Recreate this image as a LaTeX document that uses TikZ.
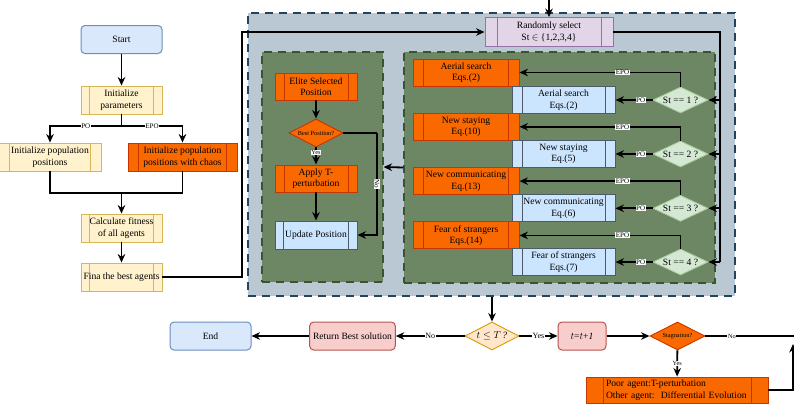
\documentclass[tikz,border=0pt]{standalone}
\usepackage{fontspec}
\setmainfont{Liberation Serif}
\usepackage{xcolor}
\usepackage{tikz}
\usetikzlibrary{arrows.meta,shapes.geometric}

\definecolor{termfill}{HTML}{DAE8FC}
\definecolor{termline}{HTML}{6C8EBF}
\definecolor{yelfill}{HTML}{FFF2CC}
\definecolor{yelline}{HTML}{D6B656}
\definecolor{orgfill}{HTML}{FA6800}
\definecolor{orgline}{HTML}{C73500}
\definecolor{purfill}{HTML}{E1D5E7}
\definecolor{purline}{HTML}{9673A6}
\definecolor{outerfill}{HTML}{BAC8D3}
\definecolor{outerline}{HTML}{23445D}
\definecolor{grnfill}{HTML}{6D8764}
\definecolor{grnline}{HTML}{3A5431}
\definecolor{bluefill}{HTML}{CCE5FF}
\definecolor{blueline}{HTML}{4D5B69}
\definecolor{dmdfill}{HTML}{D5E8D4}
\definecolor{dmdline}{HTML}{A9CC9C}
\definecolor{redfill}{HTML}{F8CECC}
\definecolor{redline}{HTML}{B85450}
\definecolor{tfill}{HTML}{FFE6CC}
\definecolor{tline}{HTML}{D79B00}

\tikzset{
  proc/.style n args={3}{fill=#1, draw=#2, line width=0.9pt, inner sep=1pt,
    minimum height=28pt,
    path picture={\draw[#2, line width=0.9pt]
      ([xshift=#3]path picture bounding box.north west) -- ([xshift=#3]path picture bounding box.south west)
      ([xshift=-#3]path picture bounding box.north east) -- ([xshift=-#3]path picture bounding box.south east);}},
  yelbox/.style={proc={yelfill}{yelline}{8.3pt}, minimum width=81pt},
  orgbox/.style={proc={orgfill}{orgline}{#1}},
  orgbox/.default=10.5pt,
  bluebox/.style={proc={bluefill}{blueline}{#1}},
  bluebox/.default=10pt,
  term/.style={rounded corners=4pt, fill=termfill, draw=termline, line width=1pt,
    minimum width=81pt, minimum height=28pt},
  redbox/.style={rounded corners=4pt, fill=redfill, draw=redline, line width=1pt,
    minimum height=28pt},
  dmd/.style={diamond, aspect=2, inner sep=0pt, line width=0.9pt},
  region/.style={dashed, dash pattern=on 8pt off 6pt, line width=1.1pt},
  conn/.style={line width=1.8pt, -{Stealth[length=8.5pt,width=7.5pt]}},
  wire/.style={line width=1.8pt},
  lab/.style={fill=white, inner sep=0.6pt, font=\fontsize{7}{7}\selectfont},
  tiny/.style={font=\fontsize{6.3}{7}\selectfont}
}

\begin{document}
\begin{tikzpicture}[x=1pt, y=-1pt,
    every node/.style={font=\fontsize{9.6}{11.5}\selectfont, align=center}]
\useasboundingbox[fill=white] (0,0) rectangle (794,405);

% regions
\node[region, fill=outerfill, draw=outerline, minimum width=487pt, minimum height=283pt] (outer) at (491.5,154.5) {};
\node[region, fill=grnfill, draw=grnline, minimum width=121pt, minimum height=230pt] (gLeft) at (322.5,167) {};
\node[region, fill=grnfill, draw=grnline, minimum width=311pt, minimum height=231pt] (gRight) at (559.5,167.5) {};

% left column
\node[term] (start) at (121.5,39.5) {Start};
\node[yelbox] (init) at (121.5,100) {Initialize\\parameters};
\node[proc={yelfill}{yelline}{10.5pt}, minimum width=102pt] (popPO) at (50,157) {Initialize population\\positions};
\node[orgbox, minimum width=109pt] (popEPO) at (182.5,157) {Initialize population\\positions with chaos};
\node[yelbox] (fit) at (121.5,228) {Calculate fitness\\of all agents};
\node[yelbox] (best) at (121.5,277) {Fina the best agents};

\coordinate (split) at (121.5,126);
\coordinate (merge) at (121.5,193);
\coordinate (loopUp) at (242,32);
\coordinate (topIn) at (549,-5);

\draw[conn] (start) -- (init);
\draw[wire] (init) -- (split);
\draw[conn] (split) -| node[lab, pos=0.25]{PO} (popPO);
\draw[conn] (split) -| node[lab, pos=0.25]{EPO} (popEPO);
\draw[wire] (popPO.south) |- (merge);
\draw[wire] (popEPO.south) |- (merge);
\draw[conn] (merge) -- (fit);
\draw[conn] (fit) -- (best);

% strategy selection
\node[proc={purfill}{purline}{12pt}, minimum width=128pt, minimum height=29pt] (rand) at (549,32) {Randomly select\\St $\in$ \{1,2,3,4\}};
\draw[conn] (best.east) -| (loopUp) -- (rand.west);
\draw[conn] (topIn) -- (rand.north);

% elite branch
\node[orgbox=9pt, minimum width=82pt, minimum height=27pt] (elite) at (316,86.5) {Elite Selected\\Position};
\node[dmd, fill=orgfill, draw=orgline, minimum width=54pt, minimum height=28pt, tiny] (bestq) at (316,133) {Best Position?};
\node[orgbox=9pt, minimum width=82pt, minimum height=27pt] (apply) at (316,178.5) {Apply T-\\perturbation};
\node[bluebox=8.3pt, minimum width=82pt] (update) at (316,235) {Update Position};
\coordinate (noCorner) at (377,133);

\draw[conn] (elite) -- (bestq);
\draw[conn] (bestq) -- node[lab, tiny, pos=0.3]{Yes} (apply);
\draw[conn] (apply) -- (update);
\draw[wire] (bestq.east) -- (noCorner);
\draw[conn] (noCorner) |- node[lab, rotate=-90, pos=0.25]{No} (update.east);
\draw[conn] (gRight.west) -- (gLeft.east);

% four strategies
\coordinate (busEnd) at (720,262);
\draw[wire] (rand.east) -| (busEnd);
\foreach \i/\ye/\yp/\te/\tp in {
    1/72.5/100/{Aerial search\\Eqs.(2)}/{Aerial search\\Eqs.(2)},
    2/126.8/154/{New staying\\Eq.(10)}/{New staying\\Eq.(5)},
    3/181.1/208.3/{New communicating\\Eq.(13)}/{New communicating\\Eq.(6)},
    4/235.4/262/{Fear of strangers\\Eqs.(14)}/{Fear of strangers\\Eqs.(7)}}{
  \node[orgbox=10.8pt, minimum width=106pt, minimum height=27pt] (epo\i) at (466,\ye) {\te};
  \node[bluebox, minimum width=103pt, minimum height=27pt] (po\i) at (563.5,\yp) {\tp};
  \node[dmd, fill=dmdfill, draw=dmdline, minimum width=55pt, minimum height=26pt] (st\i) at (680.5,\yp) {St == \i\ ?};
  \draw[conn] (st\i.north) |- node[lab, pos=0.68]{EPO} (epo\i.east);
  \draw[conn] (st\i.west) -- node[lab, pos=0.32]{PO} (po\i.east);
  \draw[conn] (st\i.east -| busEnd) -- (st\i.east);
}

% bottom row
\node[dmd, fill=tfill, draw=tline, minimum width=54pt, minimum height=28pt] (tq) at (492,336) {$t\leq T$\,\textit{?}};
\node[redbox, minimum width=81pt] (ret) at (352.5,336) {Return Best solution};
\node[term] (end) at (210.5,336) {End};
\node[redbox, minimum width=48pt] (inc) at (582,336) {$t$=$t$+\textit{1}};
\node[dmd, fill=orgfill, draw=orgline, minimum width=55pt, minimum height=28pt, tiny] (stag) at (677.5,336) {Stagnation?};
\node[orgbox=17pt, minimum width=182pt, minimum height=26pt, text width=142pt, align=left, inner sep=0pt] (poor) at (677,390)
  {Poor agent:T-perturbation\\Other agent:\ \ Differential Evolution};
\coordinate (exitR) at (800,336);
\coordinate (loopR) at (793,344);

\draw[conn] (outer.south -| tq) -- (tq.north);
\draw[conn] (tq) -- node[lab, font=\fontsize{8}{8}\selectfont]{No} (ret);
\draw[conn] (ret) -- (end);
\draw[conn] (tq) -- node[lab, font=\fontsize{8}{8}\selectfont]{Yes} (inc);
\draw[conn] (inc) -- (stag);
\draw[wire] (stag) -- node[lab, tiny, pos=0.28]{No} (exitR);
\draw[conn] (stag) -- node[lab, tiny]{Yes} (poor);
\draw[conn] (poor.east) -| (loopR);
\end{tikzpicture}
\end{document}
